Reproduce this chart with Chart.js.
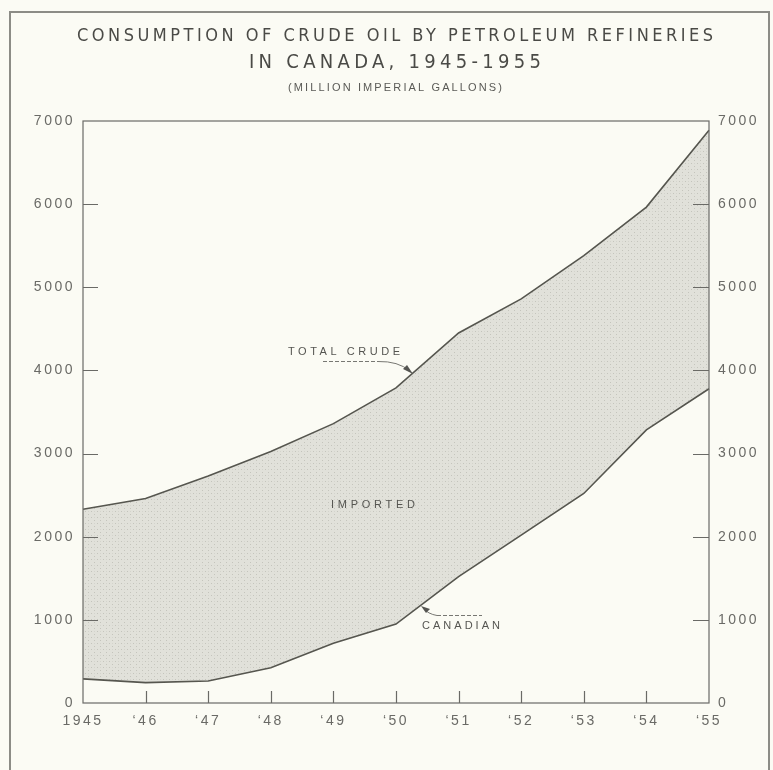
<!DOCTYPE html>
<html lang="en">
<head>
    <meta charset="UTF-8">
    <title>Consumption of Crude Oil by Petroleum Refineries in Canada, 1945-1955</title>
    <style>
        body {
            margin: 0;
            padding: 0;
            background-color: #fbfbf4;
        }
        canvas {
            display: block;
        }
    </style>
</head>
<body>
    <canvas id="crudeChart" width="773" height="770"></canvas>
    <script src="https://cdn.jsdelivr.net/npm/chart.js"></script>
    <script>
        // Years along the bottom
        const years = ['1945', '\u201846', '\u201847', '\u201848', '\u201849', '\u201850', '\u201851', '\u201852', '\u201853', '\u201854', '\u201855'];
        // Million imperial gallons
        const totalCrude = [2330, 2460, 2730, 3025, 3360, 3790, 4450, 4860, 5380, 5965, 6890];
        const canadian = [290, 245, 265, 425, 718, 950, 1520, 2020, 2520, 3285, 3780];
        const yTicks = [0, 1000, 2000, 3000, 4000, 5000, 6000, 7000];

        const titleLines = ['CONSUMPTION OF CRUDE OIL BY PETROLEUM REFINERIES', 'IN CANADA, 1945-1955'];
        const subTitle = '(MILLION IMPERIAL GALLONS)';

        const canvas = document.getElementById('crudeChart');
        const ctx = canvas.getContext('2d');

        // stippled grey fill for the imported band
        function makeStipple() {
            const c = document.createElement('canvas');
            c.width = 6;
            c.height = 6;
            const g = c.getContext('2d');
            g.fillStyle = '#e1e1da';
            g.fillRect(0, 0, 6, 6);
            g.fillStyle = '#c4c4bc';
            g.fillRect(1, 1, 1, 1);
            g.fillRect(4, 4, 1, 1);
            g.fillStyle = '#d4d4cd';
            g.fillRect(4, 1, 1, 1);
            return ctx.createPattern(c, 'repeat');
        }

        // draw text spread out to a given width
        function spacedText(c, text, x, y, font, width) {
            c.font = font;
            c.letterSpacing = '0px';
            const w = c.measureText(text).width;
            const sp = (width - w) / (text.length - 1);
            c.letterSpacing = sp + 'px';
            c.textAlign = 'left';
            c.textBaseline = 'middle';
            c.fillText(text, x - width / 2, y);
        }

        const decorPlugin = {
            id: 'decor',
            beforeDraw(chart) {
                chart.ctx.letterSpacing = '2.5px';
            },
            afterDraw(chart) {
                const c = chart.ctx;
                const a = chart.chartArea;
                const sx = chart.scales.x;
                const sy = chart.scales.y;
                c.save();

                // outer frame
                c.strokeStyle = '#8c8c86';
                c.lineWidth = 2;
                c.beginPath();
                c.moveTo(10, 780);
                c.lineTo(10, 12);
                c.lineTo(769, 12);
                c.lineTo(769, 780);
                c.stroke();

                // plot box
                c.strokeStyle = '#6a6a66';
                c.lineWidth = 1.2;
                c.strokeRect(a.left, a.top, a.right - a.left, a.bottom - a.top);

                // inward ticks
                c.beginPath();
                yTicks.forEach(v => {
                    if (v === 0 || v === 7000) return;
                    const y = Math.round(sy.getPixelForValue(v)) + 0.5;
                    c.moveTo(a.left, y);
                    c.lineTo(a.left + 15, y);
                    c.moveTo(a.right - 16, y);
                    c.lineTo(a.right, y);
                });
                years.forEach((_, i) => {
                    if (i === 0 || i === years.length - 1) return;
                    const x = Math.round(sx.getPixelForValue(i)) + 0.5;
                    c.moveTo(x, a.bottom);
                    c.lineTo(x, a.bottom - 12);
                });
                c.stroke();

                // titles
                c.fillStyle = '#4a4a46';
                spacedText(c, titleLines[0], 395, 36, '18px "Liberation Sans Narrow", "DejaVu Sans Condensed", sans-serif', 636);
                spacedText(c, titleLines[1], 395, 63, '20px "Liberation Sans Narrow", "DejaVu Sans Condensed", sans-serif', 292);
                c.fillStyle = '#5a5a56';
                spacedText(c, subTitle, 395, 88, '11px "Liberation Sans", sans-serif', 214);

                // labels on the bands
                c.fillStyle = '#555551';
                spacedText(c, 'TOTAL CRUDE', 344, 352, '11px "Liberation Sans", sans-serif', 112);
                spacedText(c, 'IMPORTED', 373, 505, '11px "Liberation Sans", sans-serif', 84);
                spacedText(c, 'CANADIAN', 461, 626, '11px "Liberation Sans", sans-serif', 78);

                c.strokeStyle = '#777772';
                c.lineWidth = 1;
                c.setLineDash([4, 2]);
                c.beginPath();
                c.moveTo(323, 361.5);
                c.lineTo(378, 361.5);
                c.moveTo(437, 615.5);
                c.lineTo(482, 615.5);
                c.stroke();
                c.setLineDash([]);
                c.beginPath();
                c.moveTo(378, 361.5);
                c.quadraticCurveTo(398, 361, 410, 371);
                c.moveTo(437, 615.5);
                c.quadraticCurveTo(428, 614, 423, 608);
                c.stroke();

                // arrow heads
                c.fillStyle = '#555551';
                c.beginPath();
                c.moveTo(413, 374);
                c.lineTo(403, 369);
                c.lineTo(407, 365);
                c.closePath();
                c.fill();
                c.beginPath();
                c.moveTo(421, 606);
                c.lineTo(430, 609);
                c.lineTo(426, 613);
                c.closePath();
                c.fill();

                c.restore();
            }
        };

        const tickFont = { family: '"Liberation Sans", sans-serif', size: 14 };
        const plainNumber = v => String(v);

        const crudeChart = new Chart(canvas, {
            type: 'line',
            data: {
                labels: years,
                datasets: [{
                    label: 'Canadian',
                    data: canadian,
                    borderColor: '#56564f',
                    borderWidth: 1.6,
                    pointRadius: 0,
                    tension: 0,
                    fill: false
                }, {
                    label: 'Total Crude',
                    data: totalCrude,
                    borderColor: '#56564f',
                    borderWidth: 1.6,
                    pointRadius: 0,
                    tension: 0,
                    fill: '-1',
                    backgroundColor: makeStipple()
                }]
            },
            options: {
                responsive: false,
                animation: false,
                layout: {
                    padding: { top: 121, left: 0, right: 0, bottom: 0 }
                },
                plugins: {
                    legend: { display: false },
                    tooltip: { enabled: false }
                },
                scales: {
                    x: {
                        offset: false,
                        grid: { display: false, drawTicks: false },
                        border: { display: false },
                        ticks: {
                            color: '#6a6a66',
                            font: tickFont,
                            padding: 10,
                            maxRotation: 0,
                            autoSkip: false
                        },
                        afterFit(scale) { scale.height = 67; }
                    },
                    y: {
                        position: 'left',
                        min: 0,
                        max: 7000,
                        grid: { display: false, drawTicks: false },
                        border: { display: false },
                        ticks: {
                            stepSize: 1000,
                            color: '#6a6a66',
                            font: tickFont,
                            padding: 8,
                            callback: plainNumber
                        },
                        afterFit(scale) { scale.width = 83; }
                    },
                    y2: {
                        position: 'right',
                        min: 0,
                        max: 7000,
                        grid: { display: false, drawTicks: false },
                        border: { display: false },
                        ticks: {
                            stepSize: 1000,
                            color: '#6a6a66',
                            font: tickFont,
                            padding: 9,
                            callback: plainNumber
                        },
                        afterFit(scale) { scale.width = 64; }
                    }
                }
            },
            plugins: [decorPlugin]
        });
    </script>
</body>
</html>
